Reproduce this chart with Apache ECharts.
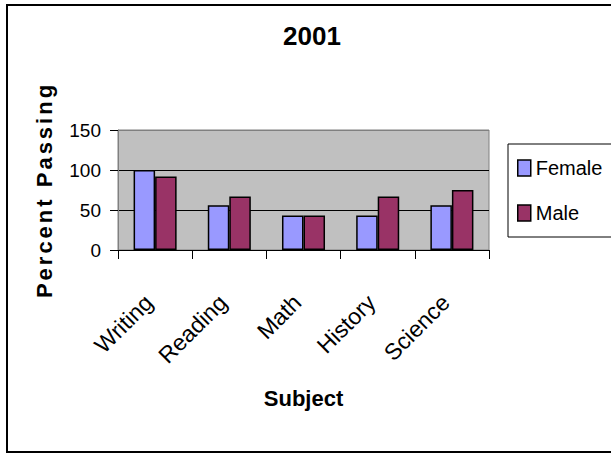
<!DOCTYPE html>
<html>
<head>
<meta charset="utf-8">
<script src="https://cdn.jsdelivr.net/npm/echarts@6/dist/echarts.min.js"></script>
<style>
html,body{margin:0;padding:0;background:#fff;}
#chart{width:611px;height:454px;}
</style>
</head>
<body>
<div id="chart"></div>
<script>
const titleText = '2001';
const categories = ['Writing', 'Reading', 'Math', 'History', 'Science'];
const femaleValues = [100, 56, 43, 43, 56];
const maleValues = [92, 67, 43, 67, 75];
const yTicks = [0, 50, 100, 150];
const xAxisName = 'Subject';
const yAxisName = 'Percent Passing';

const FONT = '"Liberation Sans", Arial, sans-serif';
const chart = echarts.init(document.getElementById('chart'), null, {renderer: 'svg'});
chart.setOption({
  animation: false,
  backgroundColor: '#ffffff',
  title: {
    text: titleText,
    left: 283,
    top: 23,
    padding: 0,
    textStyle: {fontFamily: FONT, fontSize: 26, fontWeight: 'bold', color: '#000'}
  },
  legend: {
    orient: 'vertical',
    left: 508,
    top: 144,
    padding: [14, 80, 14, 9],
    itemGap: 25,
    itemWidth: 13,
    itemHeight: 16,
    borderColor: '#000',
    borderWidth: 1,
    backgroundColor: '#fff',
    icon: 'rect',
    itemStyle: {borderColor: '#000', borderWidth: 1.5},
    textStyle: {fontFamily: FONT, fontSize: 20, color: '#000', lineHeight: 20},
    data: ['Female', 'Male']
  },
  graphic: [{
    type: 'rect',
    shape: {x: 7, y: 5, width: 640, height: 447},
    style: {fill: 'none', stroke: '#000', lineWidth: 2},
    silent: true,
    z: 100
  }],
  grid: {
    left: 118, top: 130, width: 371, height: 120,
    show: true, backgroundColor: '#C0C0C0', borderColor: '#808080', borderWidth: 1
  },
  xAxis: {
    type: 'category',
    data: categories,
    name: xAxisName,
    nameLocation: 'middle',
    nameGap: 137,
    nameTextStyle: {fontFamily: FONT, fontSize: 22, fontWeight: 'bold', color: '#000'},
    axisLine: {lineStyle: {color: '#000', width: 1}},
    axisTick: {show: true, length: 9, lineStyle: {color: '#000'}},
    axisLabel: {interval: 0, rotate: 45, margin: 55, verticalAlign: 'bottom', lineHeight: 18,
      fontFamily: FONT, fontSize: 23, color: '#000'}
  },
  yAxis: {
    type: 'value',
    min: yTicks[0],
    max: yTicks[yTicks.length - 1],
    interval: yTicks[1] - yTicks[0],
    name: yAxisName,
    nameLocation: 'middle',
    nameGap: 63,
    nameTextStyle: {fontFamily: FONT, fontSize: 22, fontWeight: 'bold', color: '#000'},
    axisLine: {show: true, lineStyle: {color: '#808080', width: 1}},
    axisTick: {show: true, length: 8, lineStyle: {color: '#000'}},
    axisLabel: {margin: 17, fontFamily: FONT, fontSize: 19, color: '#000'},
    splitLine: {show: true, lineStyle: {color: ['#000', '#000', '#000', '#808080'], width: 1}}
  },
  series: [{
    name: 'Female',
    type: 'bar',
    data: femaleValues,
    barGap: '0%',
    barCategoryGap: '42%',
    itemStyle: {color: '#9999FF', borderColor: '#000', borderWidth: 1.5}
  }, {
    name: 'Male',
    type: 'bar',
    data: maleValues,
    itemStyle: {color: '#993366', borderColor: '#000', borderWidth: 1.5}
  }]
});
// widen the letter spacing of the vertical axis title, as in the reference
document.querySelectorAll('#chart text').forEach(function (t) {
  if (t.textContent === yAxisName) {
    t.setAttribute('letter-spacing', '3');
  }
});
</script>
</body>
</html>
